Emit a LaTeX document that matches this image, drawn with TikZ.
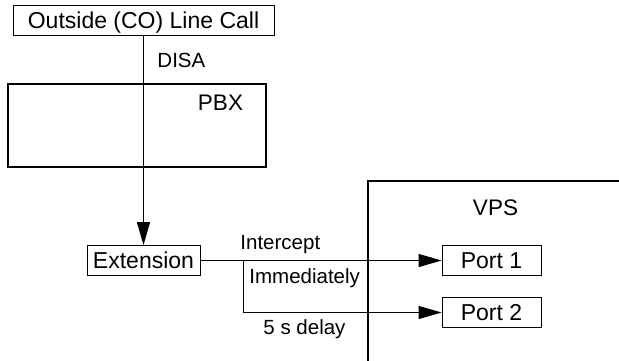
\documentclass[tikz,border=0pt]{standalone}
\usepackage{fontspec}
\setmainfont{Liberation Sans}
\usepackage{tikz}
\usetikzlibrary{arrows.meta}

\tikzset{
  box/.style={draw, line width=0.8pt, inner sep=0pt, minimum height=30pt, text height=16.5pt, text depth=0pt, font=\fontsize{23}{25}\selectfont},
  lbl/.style={inner sep=0pt, anchor=west, font=\fontsize{20.5}{22}\selectfont},
  tip/.style={-{Triangle[length=23pt,width=13pt]}}
}

\begin{document}
\begin{tikzpicture}[x=1pt,y=-1pt,line width=0.9pt]
\useasboundingbox (0,0) rectangle (619,360);
% frames of PBX and VPS
\draw[line width=1.4pt] (8,84) rectangle (266,167);
\node[inner sep=0pt, font=\fontsize{22.5}{24}\selectfont] (pbx) at (220.5,103) {PBX};
\draw[line width=1.2pt] (368,362) -- (368,181) -- (621,181);
\node[inner sep=0pt, font=\fontsize{22.5}{24}\selectfont] (vps) at (495.5,208) {VPS};
% boxes
\node[box, minimum width=261pt] (out) at (143.5,20) {Outside (CO) Line Call};
\node[box, minimum width=113pt] (ext) at (143.5,260.5) {Extension};
\node[box, minimum width=99pt] (p1) at (491.5,260.5) {Port 1};
\node[box, minimum width=99pt] (p2) at (491.5,312.5) {Port 2};
\coordinate (br) at (243,260.5);
% connectors
\draw[tip] (out) -- (ext);
\draw (ext) -- (br);
\draw[tip] (br) -- (p1);
\draw[tip] (br) |- (p2);
% labels
\node[lbl] (disa) at (157,60) {DISA};
\node[lbl] (icpt) at (240,245) {Intercept};
\node[lbl] (imm) at (249,278) {Immediately};
\node[lbl] (dly) at (263,329) {5 s delay};
\end{tikzpicture}
\end{document}
